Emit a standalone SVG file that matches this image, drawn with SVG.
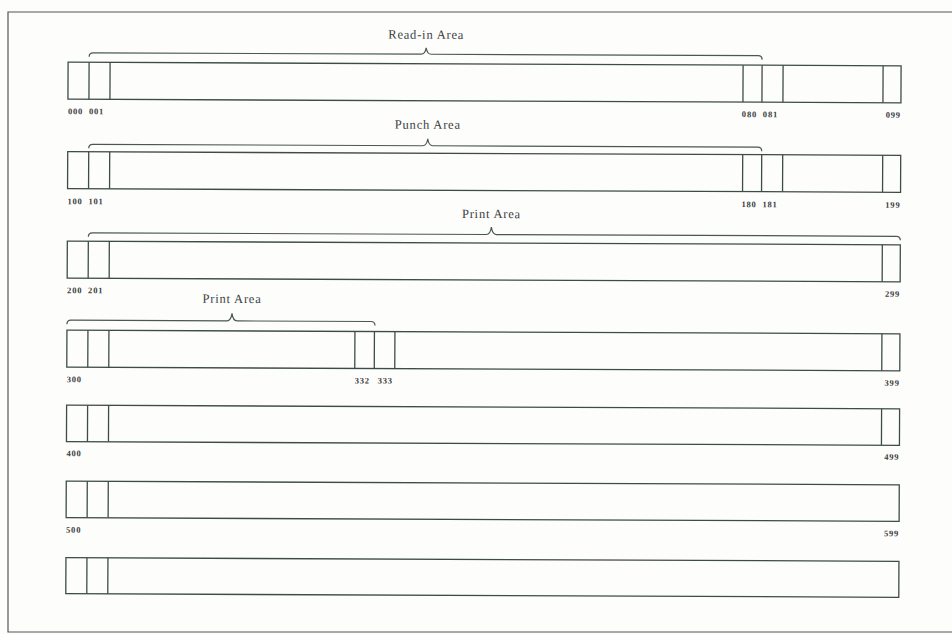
<svg xmlns="http://www.w3.org/2000/svg" width="952" height="634" viewBox="0 0 952 634">
<style>
.bar{fill:none;stroke:#3e4c48;stroke-width:1.3}
.div{stroke:#3e4c48;stroke-width:1.3}
.brace{fill:none;stroke:#4a5753;stroke-width:1.2}
.title{font-family:"Liberation Serif","DejaVu Serif",serif;font-size:12.5px;letter-spacing:0.8px;fill:#3a3d3c}
.num{font-family:"Liberation Serif","DejaVu Serif",serif;font-size:8.5px;font-weight:bold;letter-spacing:0.8px;fill:#3a3d3c}
.end{text-anchor:end}
</style>
<rect x="0" y="0" width="952" height="634" fill="#fdfdfc"/>
<path d="M960,12 H8 V632 H960" fill="none" stroke="#555" stroke-width="1.2"/>
<g transform="rotate(0.25 484 317)">
<g id="braces">
<path class="brace" d="M88,58.5 Q88,54.5 92,54.5 H420 Q424,54.5 425,48 Q426,54.5 430,54.5 H757 Q761,54.5 761,58.5"/>
<path class="brace" d="M88,150 Q88,146 92,146 H422 Q426,146 427,139 Q428,146 432,146 H757 Q761,146 761,150"/>
<path class="brace" d="M88,238.5 Q88,234.5 92,234.5 H486 Q490,234.5 491,227 Q492,234.5 496,234.5 H896 Q900,234.5 900,238.5"/>
<path class="brace" d="M67,326 Q67,322 71,322 H227 Q231,322 232,314.5 Q233,322 237,322 H371 Q375,322 375,326"/>
</g>
<g id="titles">
<text class="title" x="425" y="39" text-anchor="middle">Read-in Area</text>
<text class="title" x="427" y="129" text-anchor="middle">Punch Area</text>
<text class="title" x="491" y="218" text-anchor="middle">Print Area</text>
<text class="title" x="232" y="304" text-anchor="middle">Print Area</text>
</g>
<g id="row0">
<rect class="bar" x="67" y="64" width="833" height="37"/>
<path class="div" d="M88,64 V101 M109,64 V101 M742,64 V101 M761,64 V101 M782,64 V101 M882,64 V101"/>
<text class="num" x="67" y="116">000</text><text class="num" x="88" y="116">001</text>
<text class="num" x="741" y="116">080</text><text class="num" x="762" y="116">081</text>
<text class="num end" x="900" y="116">099</text>
</g>
<g id="row1">
<rect class="bar" x="67" y="153.5" width="833" height="37"/>
<path class="div" d="M88,153.5 V190.5 M109,153.5 V190.5 M742,153.5 V190.5 M761,153.5 V190.5 M782,153.5 V190.5 M882,153.5 V190.5"/>
<text class="num" x="67" y="206">100</text><text class="num" x="88" y="206">101</text>
<text class="num" x="741" y="206">180</text><text class="num" x="762" y="206">181</text>
<text class="num end" x="900" y="206">199</text>
</g>
<g id="row2">
<rect class="bar" x="67" y="243" width="833" height="37"/>
<path class="div" d="M88,243 V280 M109,243 V280 M882,243 V280"/>
<text class="num" x="67" y="295">200</text><text class="num" x="88" y="295">201</text>
<text class="num end" x="900" y="295">299</text>
</g>
<g id="row3">
<rect class="bar" x="67" y="332" width="833" height="37"/>
<path class="div" d="M88,332 V369 M109,332 V369 M355,332 V369 M374.5,332 V369 M395,332 V369 M882,332 V369"/>
<text class="num" x="67" y="384">300</text>
<text class="num" x="355" y="384">332</text><text class="num" x="378" y="384">333</text>
<text class="num end" x="900" y="384">399</text>
</g>
<g id="row4">
<rect class="bar" x="67" y="407" width="833" height="36.5"/>
<path class="div" d="M88,407 V443.5 M109,407 V443.5 M882,407 V443.5"/>
<text class="num" x="67" y="458">400</text>
<text class="num end" x="900" y="458">499</text>
</g>
<g id="row5">
<rect class="bar" x="67" y="483" width="833" height="36.5"/>
<path class="div" d="M88,483 V519.5 M109,483 V519.5"/>
<text class="num" x="67" y="534.5">500</text>
<text class="num end" x="900" y="534.5">599</text>
</g>
<g id="row6">
<rect class="bar" x="67" y="559.5" width="833" height="36"/>
<path class="div" d="M88,559.5 V595.5 M109,559.5 V595.5"/>
</g>
</g>
</svg>
